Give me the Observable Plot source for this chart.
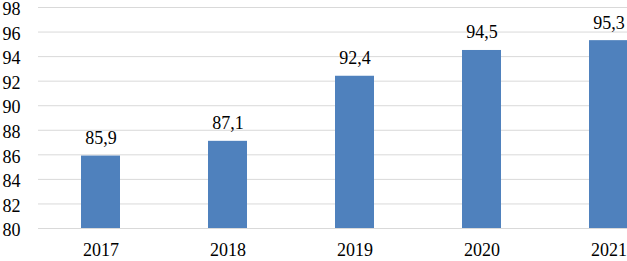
<!DOCTYPE html>
<html>
<head>
<meta charset="utf-8">
<script src="https://cdn.jsdelivr.net/npm/d3@7"></script>
<script src="https://cdn.jsdelivr.net/npm/@observablehq/plot@0.6"></script>
<style>
  html, body { margin: 0; padding: 0; background: #fff; overflow: hidden; }
</style>
</head>
<body>
<div id="chart"></div>
<script>
const years = ["2017", "2018", "2019", "2020", "2021"];
const values = [85.9, 87.1, 92.4, 94.5, 95.3];
const yTicks = [80, 82, 84, 86, 88, 90, 92, 94, 96, 98];

const data = years.map((year, i) => ({year, value: values[i]}));
const fmt = d3.formatLocale({decimal: ",", thousands: " ", grouping: [3], currency: ["", ""]}).format(".1f");
const serif = "Liberation Serif, Times New Roman, serif";

const chart = Plot.plot({
  width: 627,
  height: 261,
  marginLeft: 38,
  marginRight: 0,
  marginTop: 7,
  marginBottom: 33,
  style: {fontSize: "18px", fontFamily: serif, color: "#000", background: "#fff"},
  x: {domain: years, range: [37, 672], paddingInner: 0.69, paddingOuter: 0.345, label: null},
  y: {domain: [80, 98], label: null},
  marks: [
    Plot.ruleY(yTicks, {stroke: "#d9d9d9", strokeWidth: 1}),
    Plot.barY(data, {x: "year", y1: 80, y2: "value", fill: "#4f81bd"}),
    Plot.text(data, {x: "year", y: "value", text: d => fmt(d.value), dy: -12, lineAnchor: "bottom", fontSize: 18, fontFamily: serif, fill: "#000"}),
    Plot.axisY({ticks: yTicks, tickSize: 0, tickPadding: 18, dy: 2, fontSize: 18, fontFamily: serif, label: null, tickFormat: d => String(d)}),
    Plot.axisX({tickSize: 0, tickPadding: 15, fontSize: 18, fontFamily: serif, label: null})
  ]
});
document.getElementById("chart").appendChild(chart);
</script>
</body>
</html>
